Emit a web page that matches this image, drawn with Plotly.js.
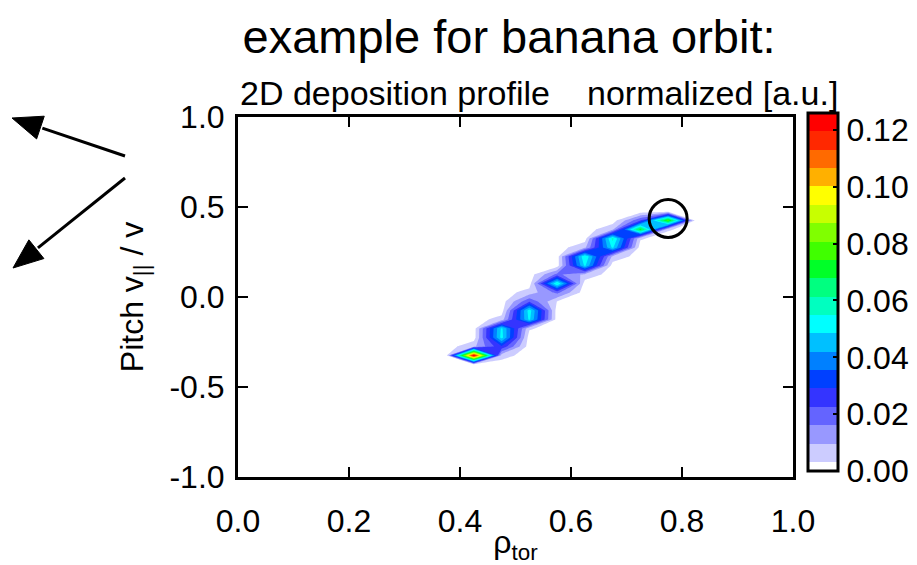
<!DOCTYPE html>
<html><head><meta charset="utf-8">
<script src="https://cdn.plot.ly/plotly-3.0.1.min.js"></script>
<style>html,body{margin:0;padding:0;background:#fff}#chart{width:917px;height:565px}</style>
</head><body><div id="chart"></div>
<script>
// normalized radius grid (columns) and pitch grid (rows)
const rho = [0.325, 0.375, 0.425, 0.475, 0.525, 0.575, 0.625, 0.675, 0.725, 0.775, 0.825];
const pitch = [-0.425, -0.375, -0.325, -0.275, -0.225, -0.175, -0.125, -0.075, -0.025, 0.025,
               0.075, 0.125, 0.175, 0.225, 0.275, 0.325, 0.375, 0.425, 0.475, 0.525];
// 2D deposition profile, one row per pitch value
const deposition = [
  [0, 0, 0,     0,     0,     0,     0,     0,     0,     0,     0],
  [0, 0, 0,     0,     0,     0,     0,     0,     0,     0,     0],
  [0, 0, 0.126, 0.006, 0,     0,     0,     0,     0,     0,     0],
  [0, 0, 0.008, 0.028, 0,     0,     0,     0,     0,     0,     0],
  [0, 0, 0,     0.051, 0,     0,     0,     0,     0,     0,     0],
  [0, 0, 0,     0.050, 0.004, 0,     0,     0,     0,     0,     0],
  [0, 0, 0,     0.006, 0.050, 0,     0,     0,     0,     0,     0],
  [0, 0, 0,     0,     0.052, 0,     0,     0,     0,     0,     0],
  [0, 0, 0,     0,     0.022, 0.003, 0,     0,     0,     0,     0],
  [0, 0, 0,     0,     0.006, 0.018, 0,     0,     0,     0,     0],
  [0, 0, 0,     0,     0,     0.056, 0,     0,     0,     0,     0],
  [0, 0, 0,     0,     0,     0.018, 0.008, 0,     0,     0,     0],
  [0, 0, 0,     0,     0,     0,     0.050, 0,     0,     0,     0],
  [0, 0, 0,     0,     0,     0,     0.055, 0.008, 0,     0,     0],
  [0, 0, 0,     0,     0,     0,     0.008, 0.050, 0,     0,     0],
  [0, 0, 0,     0,     0,     0,     0,     0.057, 0.004, 0,     0],
  [0, 0, 0,     0,     0,     0,     0,     0.008, 0.072, 0.004, 0],
  [0, 0, 0,     0,     0,     0,     0,     0,     0.022, 0.078, 0],
  [0, 0, 0,     0,     0,     0,     0,     0,     0,     0,     0],
  [0, 0, 0,     0,     0,     0,     0,     0,     0,     0,     0]
];
// contour levels
const levelStart = 0.0032;
const levelSize = 0.00646;
const levelCount = 19;
const bandColors = ['#FFFFFF', '#CCCCFF', '#9898FF', '#6464FF', '#3434FF', '#0040FF', '#0080FF',
  '#00C0FF', '#00FFFF', '#00FFC0', '#00FF80', '#00FF28', '#40FF00', '#80FF00', '#C8FF00',
  '#FFFF00', '#FFB000', '#FF6A00', '#FF2800', '#FF0000'];
// ticks
const xTickVals = [0, 0.2, 0.4, 0.6, 0.8, 1.0];
const xTickText = ['0.0', '0.2', '0.4', '0.6', '0.8', '1.0'];
const yTickVals = [-1, -0.5, 0, 0.5, 1];
const yTickText = ['-1.0', '-0.5', '0.0', '0.5', '1.0'];
const cbTickVals = [0, 0.02, 0.04, 0.06, 0.08, 0.10, 0.12];
const cbTickText = ['0.00', '0.02', '0.04', '0.06', '0.08', '0.10', '0.12'];
// highlighted grid cell (circled)
const markIdx = {rho: 9, pitch: 17};

const levelEnd = levelStart + (levelCount - 1) * levelSize;
const cbMax = levelStart + levelCount * levelSize;
const contourScale = bandColors.map((c, i) => [i / (bandColors.length - 1), c]);
const bounds = [0];
for (let k = 0; k <= levelCount; k++) bounds.push(levelStart + k * levelSize);
const stepScale = [];
bandColors.forEach((c, k) => {
  stepScale.push([Math.min(1, bounds[k] / cbMax), c]);
  stepScale.push([Math.min(1, bounds[k + 1] / cbMax), c]);
});
stepScale[stepScale.length - 1][0] = 1;

const FONT = 'Liberation Sans, Arial, Helvetica, sans-serif';
const L = 238, R = 793, T = 117, B = 477;
const pw = R - L, ph = B - T;
const px = v => (v - L) / pw;
const py = v => (B - v) / ph;

// decorative arrows (pixel positions of tip and tail)
const arrows = [
  {tip: [12, 118], tail: [125, 156]},
  {tip: [13, 268], tail: [125, 178]}
];
const headLen = 30, headHalf = 12;
const arrowShapes = [];
arrows.forEach(a => {
  const dx = a.tail[0] - a.tip[0], dy = a.tail[1] - a.tip[1];
  const d = Math.hypot(dx, dy), ux = dx / d, uy = dy / d;
  const bx = a.tip[0] + headLen * ux, by = a.tip[1] + headLen * uy;
  const c1 = [bx - headHalf * uy, by + headHalf * ux];
  const c2 = [bx + headHalf * uy, by - headHalf * ux];
  arrowShapes.push({type: 'line', xref: 'paper', yref: 'paper',
    x0: px(a.tail[0]), y0: py(a.tail[1]), x1: px(bx + 2 * ux), y1: py(by + 2 * uy),
    line: {color: '#000', width: 3}});
  arrowShapes.push({type: 'path', xref: 'paper', yref: 'paper',
    path: 'M' + px(a.tip[0]) + ',' + py(a.tip[1]) + ' L' + px(c1[0]) + ',' + py(c1[1]) +
          ' L' + px(c2[0]) + ',' + py(c2[1]) + ' Z',
    fillcolor: '#000', line: {color: '#000', width: 1}});
});

const traces = [
  {
    type: 'contour', x: rho, y: pitch, z: deposition,
    autocontour: false,
    contours: {start: levelStart, end: levelEnd, size: levelSize, coloring: 'fill', showlines: false},
    colorscale: contourScale, showscale: false, line: {width: 0, smoothing: 0}, hoverinfo: 'skip'
  },
  {
    type: 'scatter', mode: 'markers', x: [rho[markIdx.rho]], y: [pitch[markIdx.pitch]],
    hoverinfo: 'skip', showlegend: false,
    marker: {
      size: 1, opacity: 0, color: [deposition[markIdx.pitch][markIdx.rho]],
      cmin: 0, cmax: cbMax, colorscale: stepScale, showscale: true,
      colorbar: {
        thickness: 30, thicknessmode: 'pixels', len: 358, lenmode: 'pixels',
        x: px(808), xanchor: 'left', y: py(113), yanchor: 'top', xpad: 0, ypad: 0,
        outlinewidth: 3, outlinecolor: '#000', borderwidth: 0,
        tickvals: cbTickVals, ticktext: cbTickText, ticks: 'inside', ticklen: 6,
        tickwidth: 2, tickcolor: '#000', tickfont: {family: FONT, size: 32, color: '#000'}
      }
    }
  }
];

const axisCommon = {
  showline: true, linewidth: 3, linecolor: '#000', mirror: 'ticks',
  ticks: 'inside', ticklen: 10, tickwidth: 2.5, tickcolor: '#000',
  showgrid: false, zeroline: false, tickfont: {family: FONT, size: 32, color: '#000'}
};

const layout = {
  width: 917, height: 565,
  margin: {l: L, r: 917 - R, t: T, b: 565 - B, pad: 0, autoexpand: false},
  paper_bgcolor: '#fff', plot_bgcolor: '#fff',
  font: {family: FONT, size: 32, color: '#000'},
  showlegend: false,
  title: {text: 'example for banana orbit:', font: {family: FONT, size: 47, color: '#000'},
          xref: 'paper', x: px(509), xanchor: 'center', yref: 'container', y: 1 - 37 / 565, yanchor: 'middle'},
  xaxis: Object.assign({}, axisCommon, {
    range: [0, 1], tickvals: xTickVals, ticktext: xTickText, ticklabelstandoff: 14,
    title: {text: 'ρ<sub>tor</sub>', font: {family: FONT, size: 32, color: '#000'}, standoff: 10}
  }),
  yaxis: Object.assign({}, axisCommon, {
    range: [-1, 1], tickvals: yTickVals, ticktext: yTickText, ticklabelstandoff: 4,
    title: {text: 'Pitch v<sub>||</sub> / v', font: {family: FONT, size: 32, color: '#000'}, standoff: 17}
  }),
  annotations: [
    {text: '2D deposition profile', xref: 'paper', yref: 'paper', x: px(238), y: py(93),
     xanchor: 'left', yanchor: 'middle', showarrow: false, font: {family: FONT, size: 34, color: '#000'}},
    {text: 'normalized [a.u.]', xref: 'paper', yref: 'paper', x: px(840), y: py(93),
     xanchor: 'right', yanchor: 'middle', showarrow: false, font: {family: FONT, size: 34, color: '#000'}}
  ],
  shapes: arrowShapes.concat([
    {type: 'circle', xref: 'x', yref: 'y', xsizemode: 'pixel', ysizemode: 'pixel',
     xanchor: rho[markIdx.rho], yanchor: pitch[markIdx.pitch],
     x0: -19, x1: 19, y0: -17, y1: 21, line: {color: '#000', width: 3}}
  ])
};

Plotly.newPlot('chart', traces, layout, {staticPlot: true, displayModeBar: false});
</script>
</body></html>
